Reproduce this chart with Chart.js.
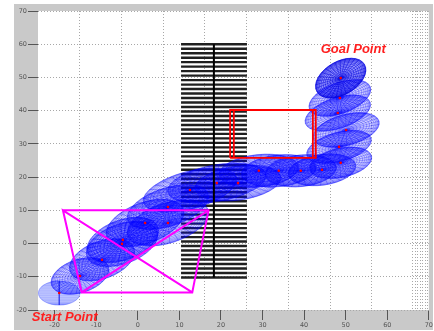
<!DOCTYPE html>
<html>
<head>
<meta charset="utf-8">
<script src="https://cdn.jsdelivr.net/npm/chart.js@4.4.1/dist/chart.umd.min.js"></script>
<style>
  html, body { margin: 0; padding: 0; background: #ffffff; overflow: hidden; }
  #wrap { width: 434px; height: 331px; }
</style>
</head>
<body>
<div id="wrap"><canvas id="plot" width="434" height="331"></canvas></div>
<script>
// ---- axes ----
const xTicks = [-20, -10, 0, 10, 20, 30, 40, 50, 60, 70];
const yTicks = [-20, -10, 0, 10, 20, 30, 40, 50, 60, 70];
const xGridLines = [-13.9, -3.8, 6.25, 16.1, 26.2, 36.3, 46.4, 56.3, 66.1, 66.7, 67.3, 67.9, 68.5, 69.1, 69.7];

// ---- obstacle: stack of horizontal bars on a spine ----
const barLevels = [60.0, 58.65, 57.3, 55.95, 54.6, 53.25, 51.9, 50.55, 49.2, 47.85, 46.5, 45.15,
  43.8, 42.45, 41.1, 39.75, 38.4, 37.05, 35.7, 34.35, 33.0, 31.65, 30.3, 28.95, 27.6, 26.25,
  24.9, 23.55, 22.2, 20.85, 19.5, 18.15, 16.8, 15.45, 14.1, 12.75, 11.4, 10.05, 8.7, 7.35,
  6.0, 4.65, 3.3, 1.95, 0.6, -0.75, -2.1, -3.45, -4.8, -6.15, -7.5, -8.85, -10.2];
const barSpan = [10.4, 26.25];
const spineX = 18.3;

// ---- magenta quadrilateral (corners TL, TR, BR, BL) ----
const quadX = [-18.0, 17.0, 13.1, -13.5];
const quadY = [10.0, 10.0, -14.7, -14.7];

// ---- red goal region (double outline) ----
const goalBoxX = [22.2, 42.8];
const goalBoxInnerX = [23.1, 42.1];
const goalBoxY = [25.8, 40.2];

// ---- uncertainty ellipses along the path ----
const ellX   = [-18.9, -13.9, -8.6, -3.8, -3.6, 1.75, 7.25, 7.25, 12.55, 19.0, 24.1, 29.1, 33.9, 39.2, 44.3, 48.8, 48.4, 50.1, 48.1, 48.6, 48.8];
const ellY   = [-14.9, -9.75, -4.9, -0.1, 1.1, 6.2, 6.2, 11.0, 16.1, 18.2, 18.2, 21.9, 21.9, 21.9, 22.2, 24.3, 29.1, 34.2, 39.3, 43.8, 49.8];
const ellA   = [5.0, 7.2, 8.2, 9.0, 9.0, 9.8, 10.2, 10.2, 11.6, 12.0, 10.4, 9.6, 9.0, 8.6, 8.2, 7.6, 8.0, 8.2, 8.2, 7.8, 6.6];
const ellB   = [2.9, 4.0, 4.5, 4.8, 4.8, 4.9, 4.8, 4.6, 4.5, 4.4, 4.1, 3.9, 3.8, 3.8, 3.7, 3.5, 3.5, 3.7, 3.7, 3.7, 4.0];
const ellAng = [0, 18, 20, 20, 20, 20, 18, 18, 15, 10, 8, 6, 6, 6, 8, 12, 15, 15, 18, 20, 30];

// ---- annotations ----
const labelText = ['Goal Point', 'Start Point'];
const labelX = [44.0, -25.5];
const labelY = [57.4, -23.2];

// build line data from the arrays above (NaN point = pen up)
const GAP = { x: NaN, y: NaN };
const quadPts = [0, 1, 2, 3, 0, 2].map(i => ({ x: quadX[i], y: quadY[i] }))
  .concat([GAP, { x: quadX[1], y: quadY[1] }, { x: quadX[3], y: quadY[3] }]);

function boxPts(xs) {
  return [
    { x: xs[0], y: goalBoxY[0] }, { x: xs[0], y: goalBoxY[1] },
    { x: xs[1], y: goalBoxY[1] }, { x: xs[1], y: goalBoxY[0] },
    { x: xs[0], y: goalBoxY[0] }
  ];
}
const goalPts = boxPts(goalBoxX).concat([GAP], boxPts(goalBoxInnerX));

const barPts = [];
barLevels.forEach(v => {
  barPts.push({ x: barSpan[0], y: v }, { x: barSpan[1], y: v }, GAP);
});
const spinePts = [{ x: spineX, y: barLevels[0] }, { x: spineX, y: barLevels[barLevels.length - 1] }];
const centerPts = ellX.map((v, i) => ({ x: v, y: ellY[i] }));

const BAR_INDEX = 4;

// figure background: grey frame with a white axes area
const frame = {
  id: 'frame',
  beforeDraw(chart) {
    const { ctx, chartArea: a } = chart;
    ctx.save();
    ctx.fillStyle = '#ffffff';
    ctx.fillRect(0, 0, chart.width, chart.height);
    ctx.fillStyle = '#c9c9c9';
    ctx.fillRect(14, 4, chart.width - 15, chart.height - 5);
    ctx.fillStyle = '#ffffff';
    ctx.fillRect(a.left, a.top, a.right - a.left, a.bottom - a.top);
    ctx.restore();
  }
};

// wireframe ellipsoids drawn right after the obstacle bars
const ellipses = {
  id: 'ellipses',
  afterDatasetDraw(chart, args) {
    if (args.index !== BAR_INDEX) return;
    const { ctx, chartArea: a, scales: { x, y } } = chart;
    const unit = Math.abs(x.getPixelForValue(1) - x.getPixelForValue(0));
    ctx.save();
    ctx.beginPath();
    ctx.rect(a.left, a.top, a.right - a.left, a.bottom - a.top);
    ctx.clip();
    for (let i = 0; i < ellX.length; i++) {
      const cx = x.getPixelForValue(ellX[i]);
      const cy = y.getPixelForValue(ellY[i]);
      const ra = ellA[i] * unit;
      const rb = ellB[i] * unit;
      ctx.save();
      ctx.translate(cx, cy);
      ctx.rotate(-ellAng[i] * Math.PI / 180);
      if (i === 0) {
        // side view: light fill with latitude strokes
        ctx.beginPath();
        ctx.ellipse(0, 0, ra, rb, 0, 0, Math.PI * 2);
        ctx.fillStyle = 'rgba(70,90,255,0.28)';
        ctx.fill();
        ctx.save();
        ctx.clip();
        ctx.strokeStyle = 'rgba(40,60,255,0.45)';
        ctx.lineWidth = 0.6;
        for (let k = -8; k <= 8; k++) {
          const yy = rb * Math.sin(k * Math.PI / 18);
          ctx.beginPath();
          ctx.moveTo(-ra, yy);
          ctx.lineTo(ra, yy);
          ctx.stroke();
        }
        ctx.restore();
        ctx.strokeStyle = 'rgba(20,30,230,0.9)';
        ctx.lineWidth = 1.2;
        ctx.beginPath();
        ctx.moveTo(0, -rb);
        ctx.lineTo(0, rb);
        ctx.stroke();
        ctx.strokeStyle = 'rgba(40,60,255,0.5)';
        ctx.lineWidth = 0.7;
        ctx.beginPath();
        ctx.ellipse(0, 0, ra, rb, 0, 0, Math.PI * 2);
        ctx.stroke();
      } else {
        const dense = i === ellX.length - 1;
        ctx.beginPath();
        ctx.ellipse(0, 0, ra, rb, 0, 0, Math.PI * 2);
        ctx.fillStyle = dense ? 'rgba(0,0,255,0.42)' : 'rgba(0,0,255,0.18)';
        ctx.fill();
        ctx.strokeStyle = dense ? 'rgba(0,0,220,0.8)' : 'rgba(0,0,255,0.48)';
        ctx.lineWidth = 0.55;
        const rings = 14;
        for (let k = 1; k <= rings; k++) {
          const f = Math.sin(k * Math.PI / (2 * rings));
          ctx.beginPath();
          ctx.ellipse(0, 0, ra * f, rb * f, 0, 0, Math.PI * 2);
          ctx.stroke();
        }
        const spokes = 30;
        for (let j = 0; j < spokes; j++) {
          const t = j * 2 * Math.PI / spokes;
          ctx.beginPath();
          ctx.moveTo(0, 0);
          ctx.lineTo(ra * Math.cos(t), rb * Math.sin(t));
          ctx.stroke();
        }
      }
      ctx.restore();
    }
    ctx.restore();
  }
};

// red italic annotations
const notes = {
  id: 'notes',
  afterDraw(chart) {
    const { ctx, scales: { x, y } } = chart;
    ctx.save();
    ctx.font = 'italic bold 13px "Liberation Sans", Arial, sans-serif';
    ctx.fillStyle = '#ff1f1f';
    ctx.textAlign = 'left';
    ctx.textBaseline = 'alphabetic';
    labelText.forEach((t, i) => {
      ctx.fillText(t, x.getPixelForValue(labelX[i]), y.getPixelForValue(labelY[i]));
    });
    ctx.restore();
  }
};

const tickFont = { family: '"DejaVu Sans", sans-serif', size: 6.5 };

new Chart(document.getElementById('plot'), {
  type: 'scatter',
  data: {
    datasets: [
      { data: quadPts, showLine: true, borderColor: '#ff00ff', borderWidth: 2, pointRadius: 0, spanGaps: false, order: 0 },
      { data: goalPts, showLine: true, borderColor: '#ff0000', borderWidth: 1.8, pointRadius: 0, spanGaps: false, order: 0 },
      { data: centerPts, showLine: false, pointRadius: 1.3, pointBorderWidth: 0, pointBackgroundColor: '#ff0000', order: 1 },
      { data: spinePts, showLine: true, borderColor: '#000000', borderWidth: 2, pointRadius: 0, order: 2 },
      { data: barPts, showLine: true, borderColor: '#202020', borderWidth: 2.4, pointRadius: 0, spanGaps: false, order: 3 }
    ]
  },
  options: {
    responsive: false,
    animation: false,
    devicePixelRatio: 1,
    layout: { padding: { left: 14, top: 11, right: 5, bottom: 0 } },
    plugins: { legend: { display: false }, tooltip: { enabled: false } },
    elements: { line: { tension: 0 } },
    scales: {
      x: {
        type: 'linear', min: -24, max: 70, position: 'bottom',
        afterBuildTicks: s => { s.ticks = xTicks.map(v => ({ value: v })); },
        afterFit: s => { s.height = 21; },
        grid: { drawOnChartArea: false, drawTicks: true, tickLength: 10, tickColor: '#555555', tickWidth: 1 },
        border: { display: false },
        ticks: { color: '#555555', font: tickFont, padding: 1, maxRotation: 0, autoSkip: false }
      },
      xg: {
        type: 'linear', min: -24, max: 70, position: 'top',
        afterBuildTicks: s => { s.ticks = xGridLines.map(v => ({ value: v })); },
        afterFit: s => { s.height = 0; },
        grid: { drawOnChartArea: true, drawTicks: false, color: '#a8a8a8', lineWidth: 1 },
        border: { display: false, dash: [1, 2] },
        ticks: { display: false }
      },
      y: {
        type: 'linear', min: -20, max: 70,
        afterBuildTicks: s => { s.ticks = yTicks.map(v => ({ value: v })); },
        afterFit: s => { s.width = 24; },
        grid: { drawOnChartArea: true, drawTicks: true, tickLength: 10, color: '#a8a8a8', tickColor: '#555555', lineWidth: 1, tickBorderDash: [] },
        border: { display: false, dash: [1, 2] },
        ticks: { color: '#555555', font: tickFont, padding: 1, autoSkip: false }
      }
    }
  },
  plugins: [frame, ellipses, notes]
});
</script>
</body>
</html>
